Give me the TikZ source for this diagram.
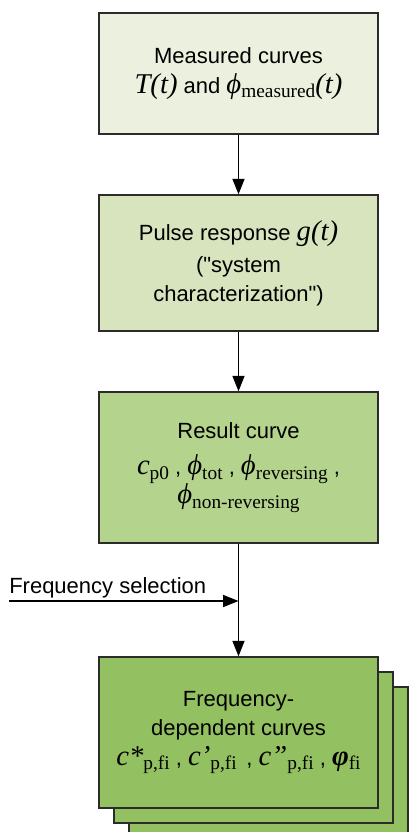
\documentclass[tikz,border=0pt]{standalone}
\usepackage{fontspec}
\setmainfont{Liberation Sans}
\newfontfamily\tms{Liberation Serif}
\newfontfamily\plainsans{Liberation Sans}[Ligatures=TeXOff]
\usetikzlibrary{arrows.meta,positioning}
\definecolor{curvepale}{HTML}{EBF1DE}
\definecolor{curvelight}{HTML}{D7E4BD}
\definecolor{curvemid}{HTML}{B4D38C}
\definecolor{curvedark}{HTML}{93C162}
\definecolor{edgegray}{HTML}{2B2B2B}
\newcommand{\mvar}[1]{{\fontsize{21.5}{22}\selectfont\tms\itshape #1}}
\newcommand{\lowtxt}[1]{\raisebox{-3.5pt}{\fontsize{14.5}{15}\selectfont\tms #1}}

\begin{document}
\begin{tikzpicture}[
  x=0.75pt, y=-0.75pt,
  box/.style={draw=edgegray, line width=1.1pt, minimum width=209.25pt, align=center, inner sep=2pt,
    font=\fontsize{16.5}{22}\selectfont},
  arr/.style={-{Triangle[length=11.5pt,width=9pt]}, line width=0.8pt}
]
  \useasboundingbox (0,0) rectangle (408,832);
  \node[box, fill=curvepale, minimum height=90.75pt] (meas) at (238.5,73.5)
    {Measured curves\\\mvar{T(t)} and \mvar{ϕ}\lowtxt{measured}\mvar{(t)}};
  \node[box, fill=curvelight, minimum height=102pt] (pulse) at (238.5,263)
    {Pulse response \mvar{g(t)}\\[2pt]({\plainsans"}system\\characterization{\plainsans"})};
  \node[box, fill=curvemid, minimum height=113.25pt] (result) at (238.5,467.5)
    {Result curve\\[5pt]\mvar{c}\lowtxt{p0} , \mvar{ϕ}\lowtxt{tot} , \mvar{ϕ}\lowtxt{reversing} ,\\\mvar{ϕ}\lowtxt{non-reversing}};

  % stacked frequency boxes
  \node[box, fill=curvedark, minimum height=113.25pt] (freq3) at (268.5,762.5) {};
  \node[box, fill=curvedark, minimum height=113.25pt] (freq2) at (253.5,747.5) {};
  \node[box, fill=curvedark, minimum height=113.25pt] (freq) at (238.5,732.5)
    {Frequency-\\dependent curves\\\mvar{c*}\lowtxt{p,fi} , \mvar{c’}\lowtxt{p,fi} \,, \mvar{c”}\lowtxt{p,fi} , {\fontsize{21.5}{22}\selectfont\tms\bfseries\itshape φ}\lowtxt{fi}};

  \coordinate (sel) at (9,601);
  \coordinate (join) at (238.5,601);
  \node[anchor=base west, inner sep=0pt, font=\fontsize{16.5}{22}\selectfont] (sellabel) at (9,593) {Frequency selection};

  \draw[arr] (meas) -- (pulse);
  \draw[arr] (pulse) -- (result);
  \draw[arr] (result) -- (freq);
  \draw[arr] (sel) -- (join);
\end{tikzpicture}
\end{document}
